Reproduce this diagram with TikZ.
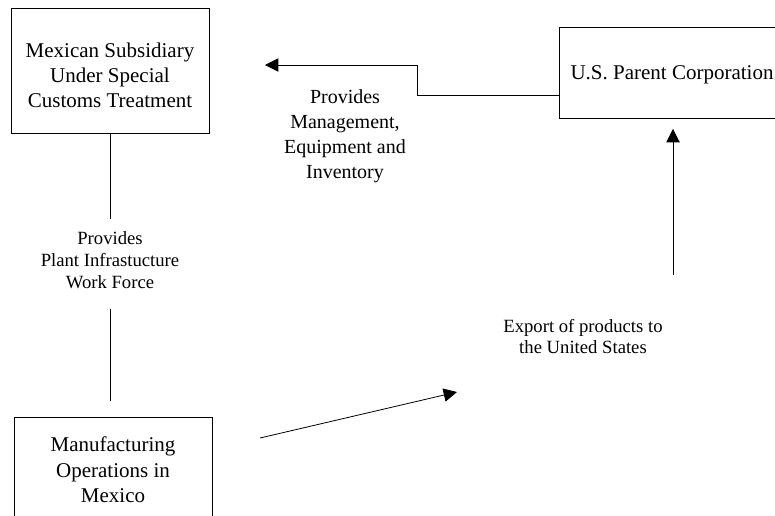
\documentclass[tikz,border=0pt]{standalone}
\usepackage{fontspec}
\setmainfont{Liberation Serif}
\usetikzlibrary{arrows.meta}

\tikzset{every picture/.style={line width=0.6pt}}
\tikzset{
  orgbox/.style={draw, inner sep=0pt},
  boxtxt/.style={align=center, inner sep=0pt, font=\fontsize{15.75}{19}\selectfont},
  flowlbl/.style={align=center, inner sep=0.75pt},
  flow/.style={-{Triangle[length=10pt,width=10pt]}},
}

\begin{document}
\begin{tikzpicture}[x=0.75pt,y=0.75pt,yscale=-1,xscale=1]
\useasboundingbox (0,0) rectangle (775,515);

%Shape: Rectangle [id:sub]
\node[orgbox, minimum width=148.5pt, minimum height=93.75pt,
  label={[boxtxt, yshift=-3.5pt]center:{Mexican Subsidiary\\Under Special\\Customs Treatment}}] (sub) at (110,70.5) {};
%Shape: Rectangle [id:parent]
\node[orgbox, minimum width=169.5pt, minimum height=68.25pt,
  label={[boxtxt, yshift=-1.9pt]center:{U.S. Parent Corporation}}] (parent) at (672,72.5) {};
%Shape: Rectangle [id:mfg]
\node[orgbox, minimum width=148.5pt, minimum height=79.5pt,
  label={[boxtxt]center:{Manufacturing\\Operations in\\Mexico}}] (mfg) at (113,470) {};

% Text Node
\node[flowlbl, font=\fontsize{15}{18.75}\selectfont] (mgmt) at (345,136) {Provides\\Management,\\Equipment and\\Inventory};
% Text Node
\node[flowlbl, font=\fontsize{14}{16.5}\selectfont] (infra) at (110,260) {Provides\\Plant Infrastucture\\Work Force};
% Text Node
\node[flowlbl, font=\fontsize{14}{15.75}\selectfont] (export) at (583,337) {Export of products to\\the United States};

%Free ends
\coordinate (mgmtend) at (265,65);
\coordinate (exptop) at (673,275);
\coordinate (shipstart) at (260,438);
\coordinate (shipend) at (457,392);

%Straight Lines
\draw[shorten >=8pt] (sub.south -| infra.north) -- (infra.north);
\draw[shorten <=14pt, shorten >=12pt] (infra.south) -- (infra.south |- mfg.north);
%Elbow Lines
\draw[flow] (parent.west) ++(0,22.5) -- ++(-141,0) -- ++(0,-30) -- (mgmtend);
\draw[flow, shorten >=7.9pt] (exptop) -- (exptop |- parent.south);
\draw[flow] (shipstart) -- (shipend);

\end{tikzpicture}
\end{document}
